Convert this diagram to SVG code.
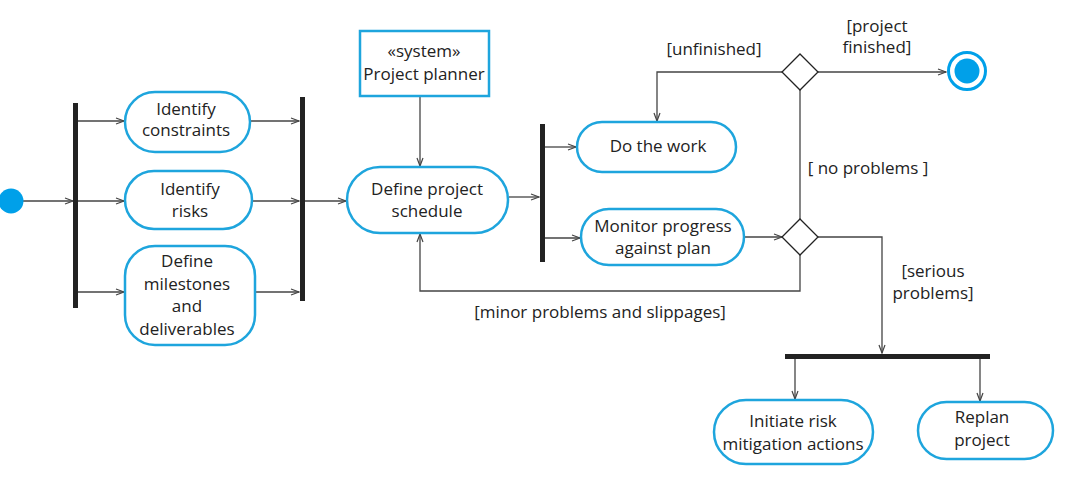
<svg xmlns="http://www.w3.org/2000/svg" width="1070" height="481" viewBox="0 0 1070 481">
<defs>
<marker id="arr" markerWidth="10" markerHeight="8" refX="9" refY="4" orient="auto" markerUnits="userSpaceOnUse">
<path d="M1,1 L9,4 L1,7" fill="none" stroke="#444" stroke-width="1.2"/>
</marker>
<style>
.act{fill:#fff;stroke:#1ea5dd;stroke-width:2.5}
.bar{fill:#222}
.c{fill:none;stroke:#444;stroke-width:1.3}
.ca{fill:none;stroke:#444;stroke-width:1.3;marker-end:url(#arr)}
.dec{fill:#fff;stroke:#222;stroke-width:1.3}
text{font-family:"Open Sans","Noto Sans","Liberation Sans",sans-serif;font-size:17px;fill:#222;text-anchor:middle}
</style>
</defs>
<rect width="1070" height="481" fill="#fff"/>

<g id="connectors">
<path class="ca" d="M23,201 H73"/>
<path class="ca" d="M78,121 H124"/>
<path class="ca" d="M78,201 H124"/>
<path class="ca" d="M78,292 H124"/>
<path class="ca" d="M251,121 H299"/>
<path class="ca" d="M253,201 H299"/>
<path class="ca" d="M256,292 H299"/>
<path class="ca" d="M305,201 H346"/>
<path class="ca" d="M420,96 V166"/>
<path class="ca" d="M509,197 H539"/>
<path class="ca" d="M545,147 H576"/>
<path class="ca" d="M545,238 H580"/>
<path class="ca" d="M745,237 H782"/>
<path class="ca" d="M783,72 H657 V121"/>
<path class="c" d="M800,89 V219"/>
<path class="ca" d="M818,72 H946"/>
<path class="ca" d="M818,237 H882 V353"/>
<path class="ca" d="M800,254 V291 H420 V234"/>
<path class="ca" d="M795,359 V399"/>
<path class="ca" d="M980,359 V401"/>
</g>

<g id="start"><circle cx="11" cy="201" r="12.5" fill="#00a0e9"/></g>
<g id="fork1"><rect class="bar" x="73" y="103" width="5" height="205"/></g>
<g id="join1"><rect class="bar" x="300" y="97" width="5" height="204"/></g>
<g id="fork2"><rect class="bar" x="540" y="124" width="5" height="138"/></g>
<g id="fork3"><rect class="bar" x="785" y="354" width="205" height="5"/></g>

<g id="identify-constraints">
<rect class="act" x="125" y="92" width="125" height="60" rx="30"/>
<text x="186" y="115">Identify</text>
<text x="186" y="136">constraints</text>
</g>
<g id="identify-risks">
<rect class="act" x="125" y="171" width="127" height="58" rx="29"/>
<text x="190" y="195">Identify</text>
<text x="190" y="217">risks</text>
</g>
<g id="define-milestones">
<rect class="act" x="125" y="246" width="130" height="99" rx="30"/>
<text x="187" y="267">Define</text>
<text x="187" y="290">milestones</text>
<text x="187" y="312">and</text>
<text x="187" y="335">deliverables</text>
</g>
<g id="project-planner">
<rect x="360" y="31" width="129" height="65" fill="#fff" stroke="#1ea5dd" stroke-width="2.5"/>
<text x="424" y="57">«system»</text>
<text x="424" y="80">Project planner</text>
</g>
<g id="define-schedule">
<rect class="act" x="347" y="167" width="161" height="66" rx="33"/>
<text x="427" y="195">Define project</text>
<text x="427" y="217">schedule</text>
</g>
<g id="do-work">
<rect class="act" x="577" y="122" width="159" height="50" rx="25"/>
<text x="658" y="152">Do the work</text>
</g>
<g id="monitor">
<rect class="act" x="581" y="209" width="163" height="56" rx="28"/>
<text x="663" y="232">Monitor progress</text>
<text x="663" y="254">against plan</text>
</g>
<g id="decision1"><path class="dec" d="M800,54 L818,72 L800,90 L782,72 Z"/></g>
<g id="decision2"><path class="dec" d="M800,219 L818,237 L800,255 L782,237 Z"/></g>
<g id="end">
<circle cx="967" cy="71" r="18.5" fill="#fff" stroke="#00a0e9" stroke-width="3"/>
<circle cx="967" cy="71" r="12.5" fill="#00a0e9"/>
</g>
<g id="initiate-risk">
<rect class="act" x="714" y="400" width="159" height="64" rx="32"/>
<text x="793" y="427">Initiate risk</text>
<text x="793" y="450">mitigation actions</text>
</g>
<g id="replan">
<rect class="act" x="918" y="402" width="135" height="57" rx="28.5"/>
<text x="982" y="423">Replan</text>
<text x="982" y="446">project</text>
</g>

<g id="labels">
<text x="714" y="55">[unfinished]</text>
<text x="877" y="32">[project</text>
<text x="877" y="53">finished]</text>
<text x="868" y="174">[ no problems ]</text>
<text x="933" y="277">[serious</text>
<text x="933" y="299">problems]</text>
<text x="600" y="318">[minor problems and slippages]</text>
</g>
</svg>
